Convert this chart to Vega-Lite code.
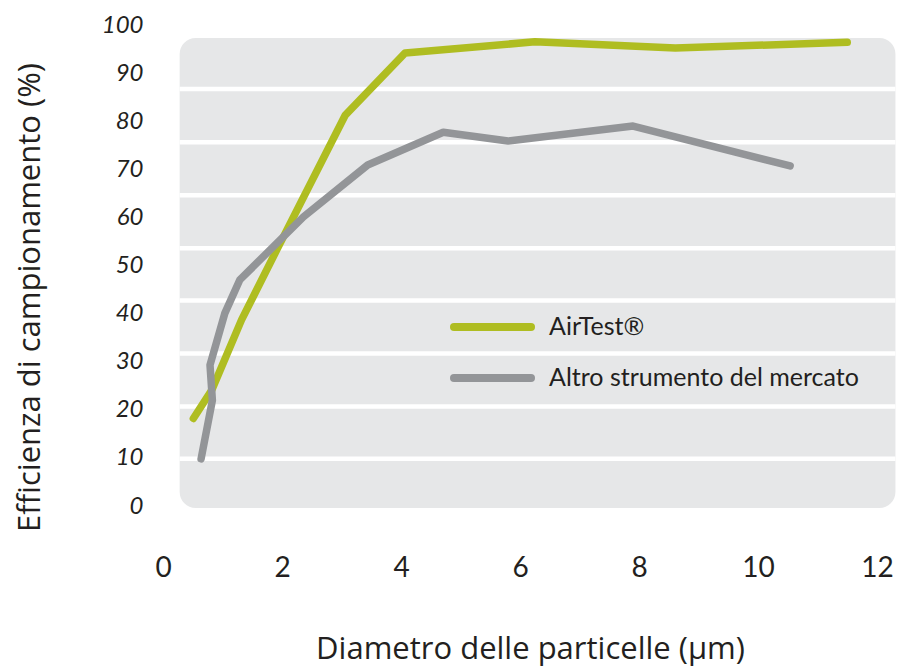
{
  "$schema": "https://vega.github.io/schema/vega-lite/v6.json",
  "width": 714,
  "height": 481,
  "autosize": "none",
  "padding": {"left": 163, "top": 25, "right": 29, "bottom": 160},
  "background": "white",
  "config": {"view": {"stroke": null}, "font": "Lato"},
  "datasets": {
    "bg": [{"x0": 0.28, "x1": 12.31, "y0": -0.4, "y1": 97.3}],
    "grid": [{"g": 9.8}, {"g": 20.7}, {"g": 31.7}, {"g": 42.7}, {"g": 53.6}, {"g": 64.6}, {"g": 75.6}, {"g": 86.7}],
    "series": [
      {"s": "AirTest®", "i": 1, "x": 0.51, "y": 18.2},
      {"s": "AirTest®", "i": 2, "x": 0.82, "y": 24.1},
      {"s": "AirTest®", "i": 3, "x": 1.32, "y": 38.7},
      {"s": "AirTest®", "i": 4, "x": 1.91, "y": 53.2},
      {"s": "AirTest®", "i": 5, "x": 3.06, "y": 81.2},
      {"s": "AirTest®", "i": 6, "x": 4.07, "y": 94.2},
      {"s": "AirTest®", "i": 7, "x": 6.25, "y": 96.5},
      {"s": "AirTest®", "i": 8, "x": 8.61, "y": 95.2},
      {"s": "AirTest®", "i": 9, "x": 11.5, "y": 96.4},
      {"s": "Altro strumento del mercato", "i": 1, "x": 0.64, "y": 9.8},
      {"s": "Altro strumento del mercato", "i": 2, "x": 0.83, "y": 22.0},
      {"s": "Altro strumento del mercato", "i": 3, "x": 0.79, "y": 29.3},
      {"s": "Altro strumento del mercato", "i": 4, "x": 1.04, "y": 40.1},
      {"s": "Altro strumento del mercato", "i": 5, "x": 1.29, "y": 47.0},
      {"s": "Altro strumento del mercato", "i": 6, "x": 2.36, "y": 60.1},
      {"s": "Altro strumento del mercato", "i": 7, "x": 3.44, "y": 70.9},
      {"s": "Altro strumento del mercato", "i": 8, "x": 4.71, "y": 77.7},
      {"s": "Altro strumento del mercato", "i": 9, "x": 5.80, "y": 75.9},
      {"s": "Altro strumento del mercato", "i": 10, "x": 7.90, "y": 79.0},
      {"s": "Altro strumento del mercato", "i": 11, "x": 10.54, "y": 70.7}
    ]
  },
  "layer": [
    {
      "data": {"name": "bg"},
      "mark": {"type": "rect", "color": "#e6e7e8", "cornerRadius": 16},
      "encoding": {
        "x": {
          "field": "x0", "type": "quantitative",
          "scale": {"domain": [0, 12], "nice": false, "zero": false},
          "axis": {
            "title": "Diametro delle particelle (µm)",
            "values": [0, 2, 4, 6, 8, 10, 12], "format": "d",
            "grid": false, "domain": false, "ticks": false,
            "labelFlush": false, "labelOverlap": false,
            "labelFont": "Lato", "labelFontSize": 28, "labelColor": "#231f20", "labelPadding": 48,
            "titleFont": "Open Sans", "titleFontSize": 31, "titleFontWeight": "normal", "titleColor": "#231f20",
            "titleX": 367, "titleY": 143, "titleAlign": "center", "titleBaseline": "middle"
          }
        },
        "x2": {"field": "x1"},
        "y": {
          "field": "y0", "type": "quantitative",
          "scale": {"domain": [0, 100], "nice": false, "zero": false},
          "axis": {
            "title": "Efficienza di campionamento (%)",
            "values": [0, 10, 20, 30, 40, 50, 60, 70, 80, 90, 100],
            "grid": false, "domain": false, "ticks": false,
            "labelFlush": false, "labelOverlap": false,
            "labelFont": "Lato", "labelFontStyle": "italic", "labelFontSize": 24, "labelColor": "#231f20", "labelPadding": 20,
            "titleFont": "Open Sans", "titleFontSize": 31, "titleFontWeight": "normal", "titleColor": "#231f20",
            "titleAngle": -90, "titleX": -133, "titleY": 272, "titleAlign": "center", "titleBaseline": "middle"
          }
        },
        "y2": {"field": "y1"}
      }
    },
    {
      "data": {"name": "grid"},
      "mark": {"type": "rule", "color": "white", "strokeWidth": 4.5},
      "encoding": {
        "y": {"field": "g", "type": "quantitative"},
        "x": {"datum": 0.28},
        "x2": {"datum": 12.31}
      }
    },
    {
      "data": {"name": "series"},
      "transform": [{"filter": "datum.s === 'AirTest®'"}],
      "mark": {"type": "line", "strokeWidth": 7.5, "strokeCap": "round", "strokeJoin": "round"},
      "encoding": {
        "x": {"field": "x", "type": "quantitative"},
        "y": {"field": "y", "type": "quantitative"},
        "order": {"field": "i"},
        "color": {
          "field": "s", "type": "nominal",
          "scale": {"domain": ["AirTest®", "Altro strumento del mercato"], "range": ["#afbd21", "#939598"]},
          "legend": {
            "orient": "none", "legendX": 287, "legendY": 287, "title": null, "padding": 0,
            "symbolType": "stroke", "symbolSize": 5929, "symbolStrokeWidth": 8,
            "clipHeight": 30, "rowPadding": 21,
            "labelFont": "Lato", "labelFontSize": 25, "labelColor": "#231f20", "labelOffset": 14, "labelLimit": 500,
            "encode": {"symbols": {"update": {"strokeCap": {"value": "round"}}}}
          }
        }
      }
    },
    {
      "data": {"name": "series"},
      "transform": [{"filter": "datum.s !== 'AirTest®'"}],
      "mark": {"type": "line", "strokeWidth": 7.5, "strokeCap": "round", "strokeJoin": "round"},
      "encoding": {
        "x": {"field": "x", "type": "quantitative"},
        "y": {"field": "y", "type": "quantitative"},
        "order": {"field": "i"},
        "color": {"field": "s", "type": "nominal"}
      }
    }
  ]
}
